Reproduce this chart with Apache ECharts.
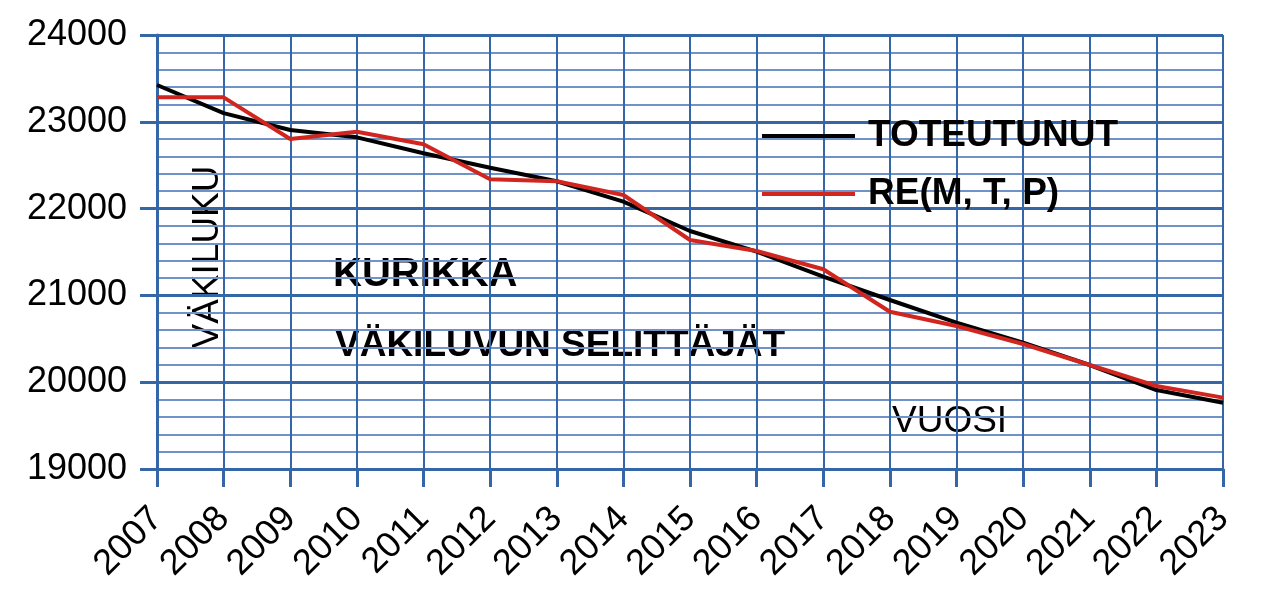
<!DOCTYPE html>
<html>
<head>
<meta charset="utf-8">
<script src="https://cdn.jsdelivr.net/npm/echarts@6/dist/echarts.min.js"></script>
<style>
  html, body { margin: 0; padding: 0; background: #fff; }
  #chart { width: 1276px; height: 591px; }
</style>
</head>
<body>
<div id="chart"></div>
<script>
var years = ['2007', '2008', '2009', '2010', '2011', '2012', '2013', '2014', '2015',
             '2016', '2017', '2018', '2019', '2020', '2021', '2022', '2023'];
var toteutunut = [23424, 23100, 22906, 22821, 22637, 22471, 22315, 22080, 21742,
                  21504, 21216, 20947, 20686, 20455, 20198, 19910, 19764];
var reMTP = [23282, 23282, 22802, 22886, 22741, 22338, 22315, 22157, 21638,
             21512, 21301, 20812, 20647, 20440, 20198, 19956, 19822];
var seriesNames = ['TOTEUTUNUT', 'RE(M, T, P)'];

var chart = echarts.init(document.getElementById('chart'));
var font = "'Liberation Sans', Arial, sans-serif";
var blue = '#3566a8';

var option = {
    animation: false,
    textStyle: { fontFamily: font },
    grid: { left: 157, right: 53, top: 35, bottom: 122 },
    legend: {
        orient: 'vertical',
        left: 757,
        top: 110,
        itemWidth: 93,
        itemHeight: 4,
        itemGap: 16,
        icon: 'rect',
        textStyle: {
            fontFamily: font,
            fontSize: 37,
            fontWeight: 'bold',
            color: '#000',
            lineHeight: 42,
            padding: [0, 0, 0, 8]
        },
        data: seriesNames
    },
    xAxis: {
        type: 'category',
        data: years,
        boundaryGap: false,
        axisLine: { lineStyle: { color: blue, width: 3 } },
        axisTick: { length: 18, lineStyle: { color: blue, width: 3 } },
        axisLabel: {
            rotate: 45,
            margin: 44,
            fontSize: 36,
            color: '#000',
            fontFamily: font,
            interval: 0
        },
        splitLine: { show: true, lineStyle: { color: blue, width: 2 } }
    },
    yAxis: {
        type: 'value',
        min: 19000,
        max: 24000,
        interval: 1000,
        axisLine: { show: true, lineStyle: { color: blue, width: 3 } },
        axisTick: { show: true, length: 17, lineStyle: { color: blue, width: 3 } },
        axisLabel: {
            margin: 30, fontSize: 36, color: '#000', fontFamily: font,
            formatter: function (v) { return String(v); }
        },
        splitLine: { lineStyle: { color: blue, width: 3 } },
        minorTick: { show: false, splitNumber: 5 },
        minorSplitLine: { show: true, lineStyle: { color: '#6f93c8', width: 2 } }
    },
    graphic: [
        {
            type: 'text', left: 333, top: 255,
            style: { text: 'KURIKKA', font: 'bold 40px ' + font, fill: '#000' }
        },
        {
            type: 'text', left: 335, top: 327,
            style: { text: 'VÄKILUVUN SELITTÄJÄT', font: 'bold 37px ' + font, fill: '#000' }
        },
        {
            type: 'text', x: 208, y: 257, rotation: Math.PI / 2,
            style: { text: 'VÄKILUKU', font: '37px ' + font, fill: '#000',
                     align: 'center', verticalAlign: 'middle' }
        },
        {
            type: 'text', left: 892, top: 403,
            style: { text: 'VUOSI', font: '37px ' + font, fill: '#000' }
        }
    ],
    series: [
        {
            name: seriesNames[0],
            type: 'line',
            data: toteutunut,
            symbol: 'none',
            lineStyle: { color: '#000', width: 4 },
            itemStyle: { color: '#000' }
        },
        {
            name: seriesNames[1],
            type: 'line',
            data: reMTP,
            symbol: 'none',
            lineStyle: { color: '#d0261f', width: 4 },
            itemStyle: { color: '#d0261f' }
        }
    ]
};
chart.setOption(option);
window.onresize = chart.resize;
</script>
</body>
</html>
